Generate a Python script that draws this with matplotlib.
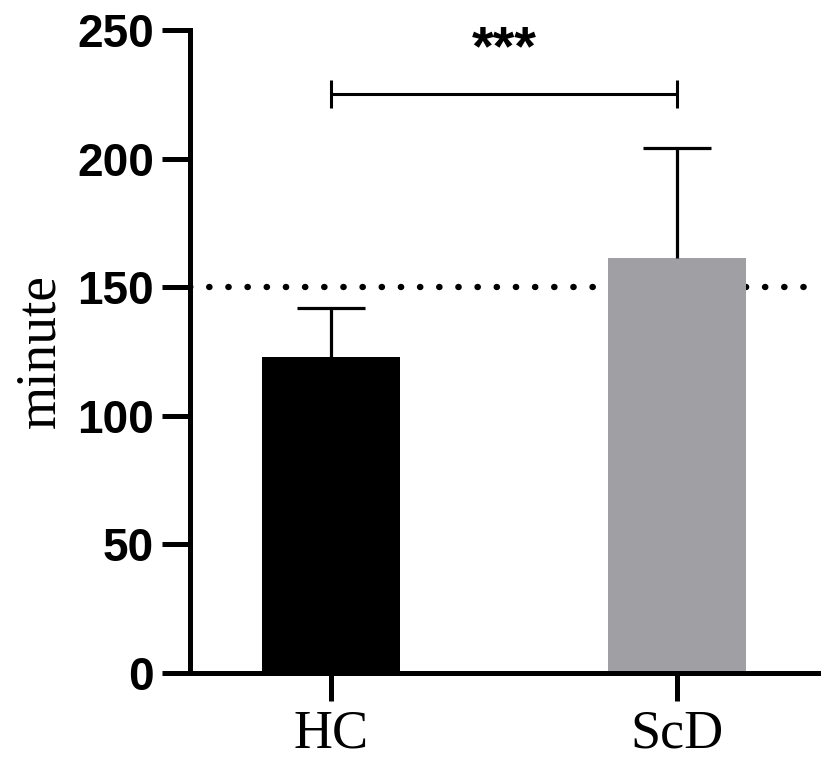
import matplotlib.pyplot as plt

groups = ["HC", "ScD"]
means = [123.0, 161.5]
sds = [19.0, 42.7]
bar_colors = ["#000000", "#a0a0a4"]
cutoff = 150
yticks = [0, 50, 100, 150, 200, 250]
bracket_y = 225
sig_label = "***"

fig = plt.figure(figsize=(8.27, 7.59), dpi=100)
ax = fig.add_axes([190 / 827, 86 / 759, (818 - 190) / 827, (673 - 30) / 759])

x = list(range(len(groups)))
ax.axhline(cutoff, color="black", linewidth=4.6, linestyle=(0, (0.05, 2.95)),
           dash_capstyle="round", zorder=1)
ax.bar(x, means, width=0.396, color=bar_colors, zorder=2)

# upper error bars only
tops = [m + s for m, s in zip(means, sds)]
ax.vlines(x, means, tops, color="black", linewidth=2.3, zorder=3)
ax.hlines(tops, [i - 0.098 for i in x], [i + 0.098 for i in x],
          color="black", linewidth=2.3, zorder=3)

# significance bracket
ax.errorbar([0.5], [bracket_y], xerr=[0.5], fmt="none", ecolor="black",
            elinewidth=2.2, capsize=10, capthick=2.2, clip_on=False, zorder=3)
ax.text(0.5, 242, sig_label, ha="center", va="center", fontsize=40,
        fontweight="bold", family="Liberation Sans")

ax.set_xlim(-0.4075, 1.4075)
ax.set_ylim(0, 250)
ax.set_yticks(yticks)
ax.set_xticks(x)
ax.set_xticklabels(groups, family="Liberation Serif", fontsize=39)
ax.set_yticklabels([str(t) for t in yticks], family="Liberation Sans",
                   fontweight="bold", fontsize=33)
ax.set_ylabel("minute", family="Liberation Serif", fontsize=40, labelpad=8)

for side in ["top", "right"]:
    ax.spines[side].set_visible(False)
for side in ["left", "bottom"]:
    ax.spines[side].set_linewidth(3.6)
ax.tick_params(axis="both", direction="out", length=20, width=3.6, pad=6)

fig.savefig("out.png", dpi=100)
